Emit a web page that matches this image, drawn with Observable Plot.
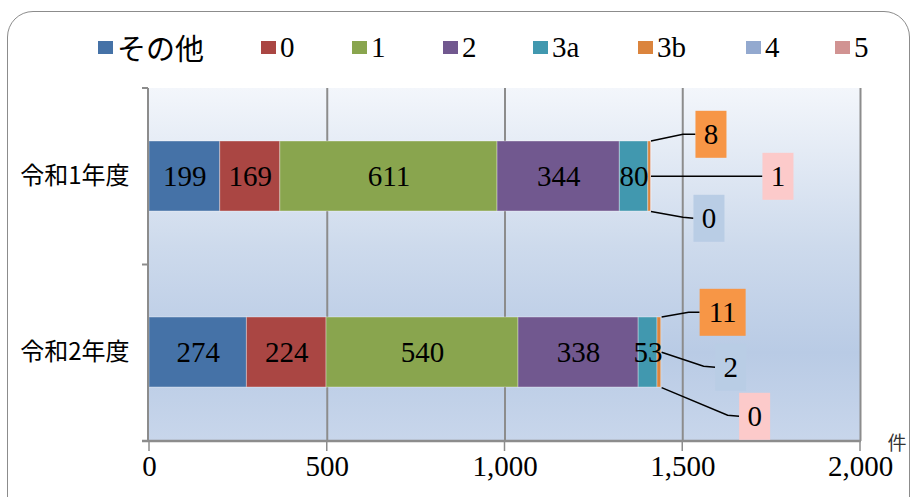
<!DOCTYPE html>
<html><head><meta charset="utf-8">
<script src="https://cdn.jsdelivr.net/npm/d3@7"></script>
<script src="https://cdn.jsdelivr.net/npm/@observablehq/plot@0.6"></script>
<style>
html,body{margin:0;padding:0;background:#fff;}
#wrap{position:relative;width:911px;height:497px;overflow:hidden;}
#border{position:absolute;left:7px;top:11px;width:903px;height:520px;border:1.5px solid #8c8c8c;border-radius:26px;box-sizing:border-box;pointer-events:none;}
#legend{position:relative;height:75px;}
.item{position:absolute;top:27px;height:40px;display:flex;align-items:center;font-family:'Liberation Serif','DejaVu Serif',serif;font-size:29px;color:#000;white-space:nowrap;}
.item.cjk{font-family:'Noto Sans CJK JP',sans-serif;font-size:29px;}
.sw{width:15px;height:13px;margin-right:4px;flex:none;}
#chart svg{display:block;}
</style>
</head><body>
<div id="wrap">
  <div id="border"></div>
  <div id="legend"></div>
  <div id="chart"></div>
</div>
<script>
// ---- data ----
const years = ["令和1年度", "令和2年度"];
const series = ["その他", "0", "1", "2", "3a", "3b", "4", "5"];
const values1 = [199, 169, 611, 344, 80, 8, 0, 1];
const values2 = [274, 224, 540, 338, 53, 11, 2, 0];
const colors = ["#4572A7", "#AA4643", "#89A54E", "#71588F", "#4198AF", "#DB843D", "#93A9CF", "#D19392"];
const xTicks = [0, 500, 1000, 1500, 2000];
const unitLabel = "件";

const valuesByYear = [values1, values2];
const rows = years.flatMap((year, i) => series.map((s, j) => ({year, series: s, value: valuesByYear[i][j]})));

// ---- layout / style ----
const serifFont = "'Liberation Serif', 'DejaVu Serif', serif";
const legendLeft = [98, 261, 352, 443, 533, 638, 746, 835];
const insideCount = 5; // first five segments labelled inside bars
const calloutLayout = [
  {row: 0, series: "3b", anchor: "top",    elbow: [32, -42], box: [60, -42]},
  {row: 0, series: "5",  anchor: "mid",    elbow: null,      box: [127, 0]},
  {row: 0, series: "4",  anchor: "bottom", elbow: [32, 41],  box: [58, 42]},
  {row: 1, series: "3b", anchor: "top",    elbow: [27, -40], box: [61, -40]},
  {row: 1, series: "4",  anchor: "mid",    elbow: [42, 14],  box: [69, 15]},
  {row: 1, series: "5",  anchor: "bottom", elbow: [66, 63],  box: [93, 64]}
];
const boxFill = {"3b": "#F79646", "4": "#B9CDE5", "5": "#FCCACA"};
const gridColor = "#8c8c8c";

// legend
const legend = document.getElementById("legend");
series.forEach((s, i) => {
  const it = document.createElement("div");
  it.className = "item" + (i === 0 ? " cjk" : "");
  it.style.left = legendLeft[i] + "px";
  const sw = document.createElement("span");
  sw.className = "sw";
  sw.style.background = colors[i];
  const tx = document.createElement("span");
  tx.textContent = s;
  it.appendChild(sw); it.appendChild(tx);
  legend.appendChild(it);
});

const bgMark = (index, scales, values, dim) => {
  const g = d3.create("svg:g");
  const grad = g.append("defs").append("linearGradient")
    .attr("id", "bgGrad").attr("x1", 0).attr("y1", 0).attr("x2", 0).attr("y2", 1);
  [[0, "#F3F6FB"], [0.45, "#CDDAEC"], [0.75, "#B9CBE5"], [1, "#C8D6EB"]].forEach(([o, c]) =>
    grad.append("stop").attr("offset", o).attr("stop-color", c));
  g.append("rect")
    .attr("x", dim.marginLeft).attr("y", dim.marginTop)
    .attr("width", dim.width - dim.marginLeft - dim.marginRight)
    .attr("height", dim.height - dim.marginTop - dim.marginBottom)
    .attr("fill", "url(#bgGrad)");
  return g.node();
};

const axisLines = (index, scales, values, dim) => {
  const g = d3.create("svg:g").attr("stroke", gridColor).attr("fill", "none");
  const x0 = scales.x(0) - 1;
  const top = dim.marginTop, bottom = dim.height - dim.marginBottom;
  const step = (bottom - top) / years.length;
  g.append("line").attr("x1", x0).attr("x2", x0).attr("y1", top).attr("y2", bottom).attr("stroke-width", 2);
  for (let i = 0; i <= years.length; i++) {
    const yy = top + step * i;
    g.append("line").attr("x1", x0 - 6).attr("x2", x0).attr("y1", yy).attr("y2", yy).attr("stroke-width", 2);
  }
  g.append("line").attr("x1", x0 - 6).attr("x2", scales.x(2000) + 1).attr("y1", bottom).attr("y2", bottom).attr("stroke-width", 2.5);
  for (const t of xTicks) {
    const xx = scales.x(t);
    g.append("line").attr("x1", xx).attr("x2", xx).attr("y1", bottom).attr("y2", bottom + 10).attr("stroke-width", 1.5);
  }
  g.append("text").attr("x", scales.x(2000) + 37).attr("y", bottom).attr("stroke", "none").attr("fill", "#333")
    .attr("text-anchor", "middle").attr("dominant-baseline", "central")
    .attr("font-family", "Noto Sans CJK JP").attr("font-size", 19).text(unitLabel);
  return g.node();
};

const calloutMark = (index, scales, values, dim) => {
  const g = d3.create("svg:g");
  const step = (dim.height - dim.marginTop - dim.marginBottom) / years.length;
  const bw = step * 0.4;
  for (const c of calloutLayout) {
    const vals = valuesByYear[c.row];
    const ex = scales.x(d3.sum(vals));
    const y0 = scales.y(years[c.row]);
    const cy = y0 + bw / 2;
    const ay = c.anchor === "top" ? y0 : c.anchor === "bottom" ? y0 + bw : cy;
    const label = String(vals[series.indexOf(c.series)]);
    const w = 16 + 15 * label.length, h = 47;
    const bx = ex + c.box[0], by = cy + c.box[1];
    const pts = [[ex, ay]];
    if (c.elbow) pts.push([ex + c.elbow[0], cy + c.elbow[1]]);
    pts.push([bx - w / 2, by]);
    g.append("path").attr("d", d3.line()(pts)).attr("stroke", "#000").attr("stroke-width", 1.5).attr("fill", "none");
    g.append("rect").attr("x", bx - w / 2).attr("y", by - h / 2).attr("width", w).attr("height", h).attr("fill", boxFill[c.series]);
    g.append("text").attr("x", bx).attr("y", by).attr("text-anchor", "middle").attr("dominant-baseline", "central")
      .attr("font-family", serifFont).attr("font-size", 29).attr("fill", "#000").text(label);
  }
  return g.node();
};

const chart = Plot.plot({
  width: 911,
  height: 422,
  marginLeft: 149,
  marginRight: 51,
  marginTop: 13,
  marginBottom: 56,
  style: {fontFamily: serifFont, color: "#000", background: "transparent", overflow: "visible"},
  x: {domain: [0, 2000]},
  y: {domain: years, paddingInner: 0.6, paddingOuter: 0.3},
  color: {domain: series, range: colors},
  marks: [
    bgMark,
    Plot.gridX(xTicks.slice(1), {stroke: gridColor, strokeOpacity: 1, strokeWidth: 2}),
    Plot.barX(rows, {x: "value", y: "year", fill: "series", order: series, stroke: "#ffffff", strokeOpacity: 0.35, strokeWidth: 1}),
    Plot.text(rows, Plot.stackX({
      x: "value", y: "year", z: "series", order: series,
      text: d => series.indexOf(d.series) < insideCount ? String(d.value) : null,
      fontSize: 29, fontFamily: serifFont, fill: "#000"
    })),
    axisLines,
    Plot.axisX(xTicks, {tickSize: 0, tickPadding: 14, tickFormat: d3.format(","), fontSize: 29, fontFamily: serifFont, label: null}),
    Plot.axisY({tickSize: 0, tickPadding: 20, fontSize: 24, fontFamily: "Noto Sans CJK JP", label: null}),
    calloutMark
  ]
});
document.getElementById("chart").appendChild(chart);
</script>
</body></html>
